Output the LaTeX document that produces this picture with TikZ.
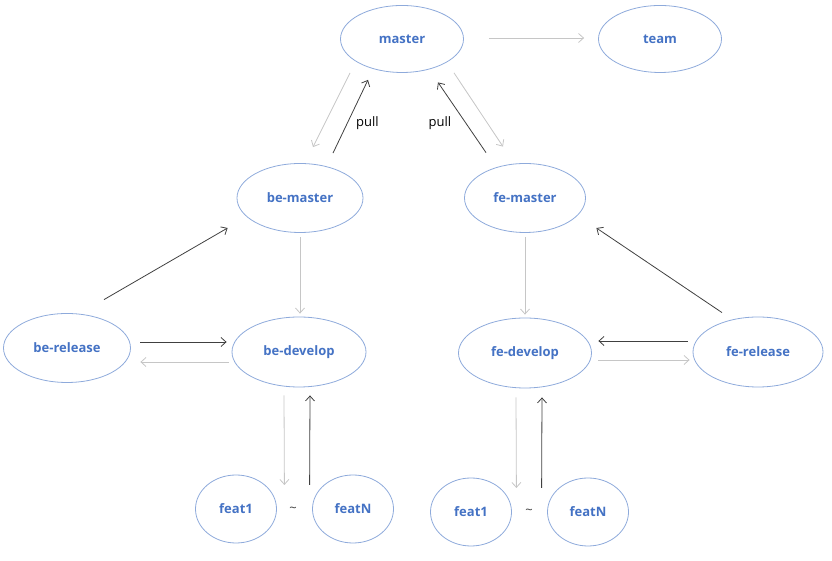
\documentclass[tikz,border=0pt]{standalone}
\usepackage{fontspec}
\setmainfont{Open Sans}
\usepackage{tikz}
\usetikzlibrary{shapes.geometric}
\usetikzlibrary{arrows.meta}
\definecolor{nodeblue}{HTML}{4472C4}
\definecolor{rimblue}{HTML}{8EAADB}
\definecolor{fwdgray}{HTML}{C6C6C6}
\definecolor{backdark}{HTML}{404040}

\begin{document}
\begin{tikzpicture}[x = 1pt, y = 1pt,
		branch/.style = {ellipse, draw = rimblue, line width = 0.8pt, inner sep = 0pt, text = nodeblue, font = \fontsize{13}{15}\selectfont\bfseries},
		fwd/.style = {draw = fwdgray, line width = 0.8pt, -{Straight Barb[length = 5pt, width = 9pt]}},
		back/.style = {draw = backdark, line width = 0.8pt, -{Straight Barb[length = 5pt, width = 9pt]}},
		lbl/.style = {font = \fontsize{13}{15}\selectfont, text = black}]
		\useasboundingbox (0,0) rectangle (832,561);
		% branches
		\node[branch, minimum width = 123pt, minimum height = 67pt] (master) at (402,522) {master};
		\node[branch, minimum width = 123pt, minimum height = 67pt] (team) at (660,522) {team};
		\node[branch, minimum width = 126pt, minimum height = 69pt] (bemaster) at (300,363) {be-master};
		\node[branch, minimum width = 121pt, minimum height = 69pt] (femaster) at (525,363) {fe-master};
		\node[branch, minimum width = 127pt, minimum height = 69pt] (berelease) at (67,213) {be-release};
		\node[branch, minimum width = 134pt, minimum height = 70pt] (bedevelop) at (299,209) {be-develop};
		\node[branch, minimum width = 133pt, minimum height = 70pt] (fedevelop) at (525,208) {fe-develop};
		\node[branch, minimum width = 130pt, minimum height = 70pt] (ferelease) at (758,209) {fe-release};
		\node[branch, minimum width = 81pt, minimum height = 68pt] (befeatA) at (236,52) {feat1};
		\node[branch, minimum width = 81pt, minimum height = 68pt] (befeatN) at (353,52) {featN};
		\node[branch, minimum width = 81pt, minimum height = 68pt] (fefeatA) at (471,49) {feat1};
		\node[branch, minimum width = 81pt, minimum height = 68pt] (fefeatN) at (588,49) {featN};
		\node[lbl, text = backdark] (betilde) at (293,51) {\textasciitilde};
		\node[lbl, text = backdark] (fetilde) at (529,49) {\textasciitilde};

		% top
		\draw[fwd] ([xshift = 25pt, yshift = 1pt]master.east) -- ([xshift = -14pt, yshift = 1pt]team.west);
		\draw[fwd] ([xshift = -52pt]master.south) -- ([shift = {(13pt,16pt)}]bemaster.north);
		\draw[back] ([shift = {(33pt,10pt)}]bemaster.north) -- ([shift = {(-34pt,-7pt)}]master.south) node[lbl, pos = 0.41, right = 5pt] {pull};
		\draw[back] ([shift = {(-39pt,10.5pt)}]femaster.north) -- ([shift = {(36pt,-9.5pt)}]master.south) node[lbl, pos = 0.42, left = 11pt] {pull};
		\draw[fwd] ([xshift = 52pt]master.south) -- ([shift = {(-22pt,16.5pt)}]femaster.north);

		% back end
		\draw[back] ([shift = {(37pt,13.5pt)}]berelease.north) -- ([shift = {(-9pt,-30pt)}]bemaster.west);
		\draw[fwd] ([yshift = -4pt]bemaster.south) -- ([shift = {(1pt,3pt)}]bedevelop.north);
		\draw[back] ([shift = {(9.5pt,6pt)}]berelease.east) -- ([shift = {(-5pt,10pt)}]bedevelop.west);
		\draw[fwd] ([shift = {(-3pt,-10pt)}]bedevelop.west) -- ([shift = {(9.5pt,-14pt)}]berelease.east);
		\draw[fwd] ([shift = {(-15pt,-8pt)}]bedevelop.south) -- ([shift = {(7.5pt,24pt)}]befeatA.east);
		\draw[back] ([shift = {(-2.5pt,24pt)}]befeatN.west) -- ([shift = {(11pt,-8pt)}]bedevelop.south);

		% front end
		\draw[fwd] ([yshift = -4pt]femaster.south) -- ([yshift = 3pt]fedevelop.north);
		\draw[back] ([shift = {(-36pt,4pt)}]ferelease.north) -- ([shift = {(10.5pt,-30pt)}]femaster.east);
		\draw[back] ([shift = {(-5pt,11pt)}]ferelease.west) -- ([shift = {(6.5pt,12pt)}]fedevelop.east);
		\draw[fwd] ([shift = {(6.5pt,-7pt)}]fedevelop.east) -- ([shift = {(-3pt,-8pt)}]ferelease.west);
		\draw[fwd] ([shift = {(-9pt,-9pt)}]fedevelop.south) -- ([shift = {(4.5pt,24pt)}]fefeatA.east);
		\draw[back] ([shift = {(-5.5pt,24pt)}]fefeatN.west) -- ([shift = {(17pt,-9pt)}]fedevelop.south);
	\end{tikzpicture}
\end{document}
